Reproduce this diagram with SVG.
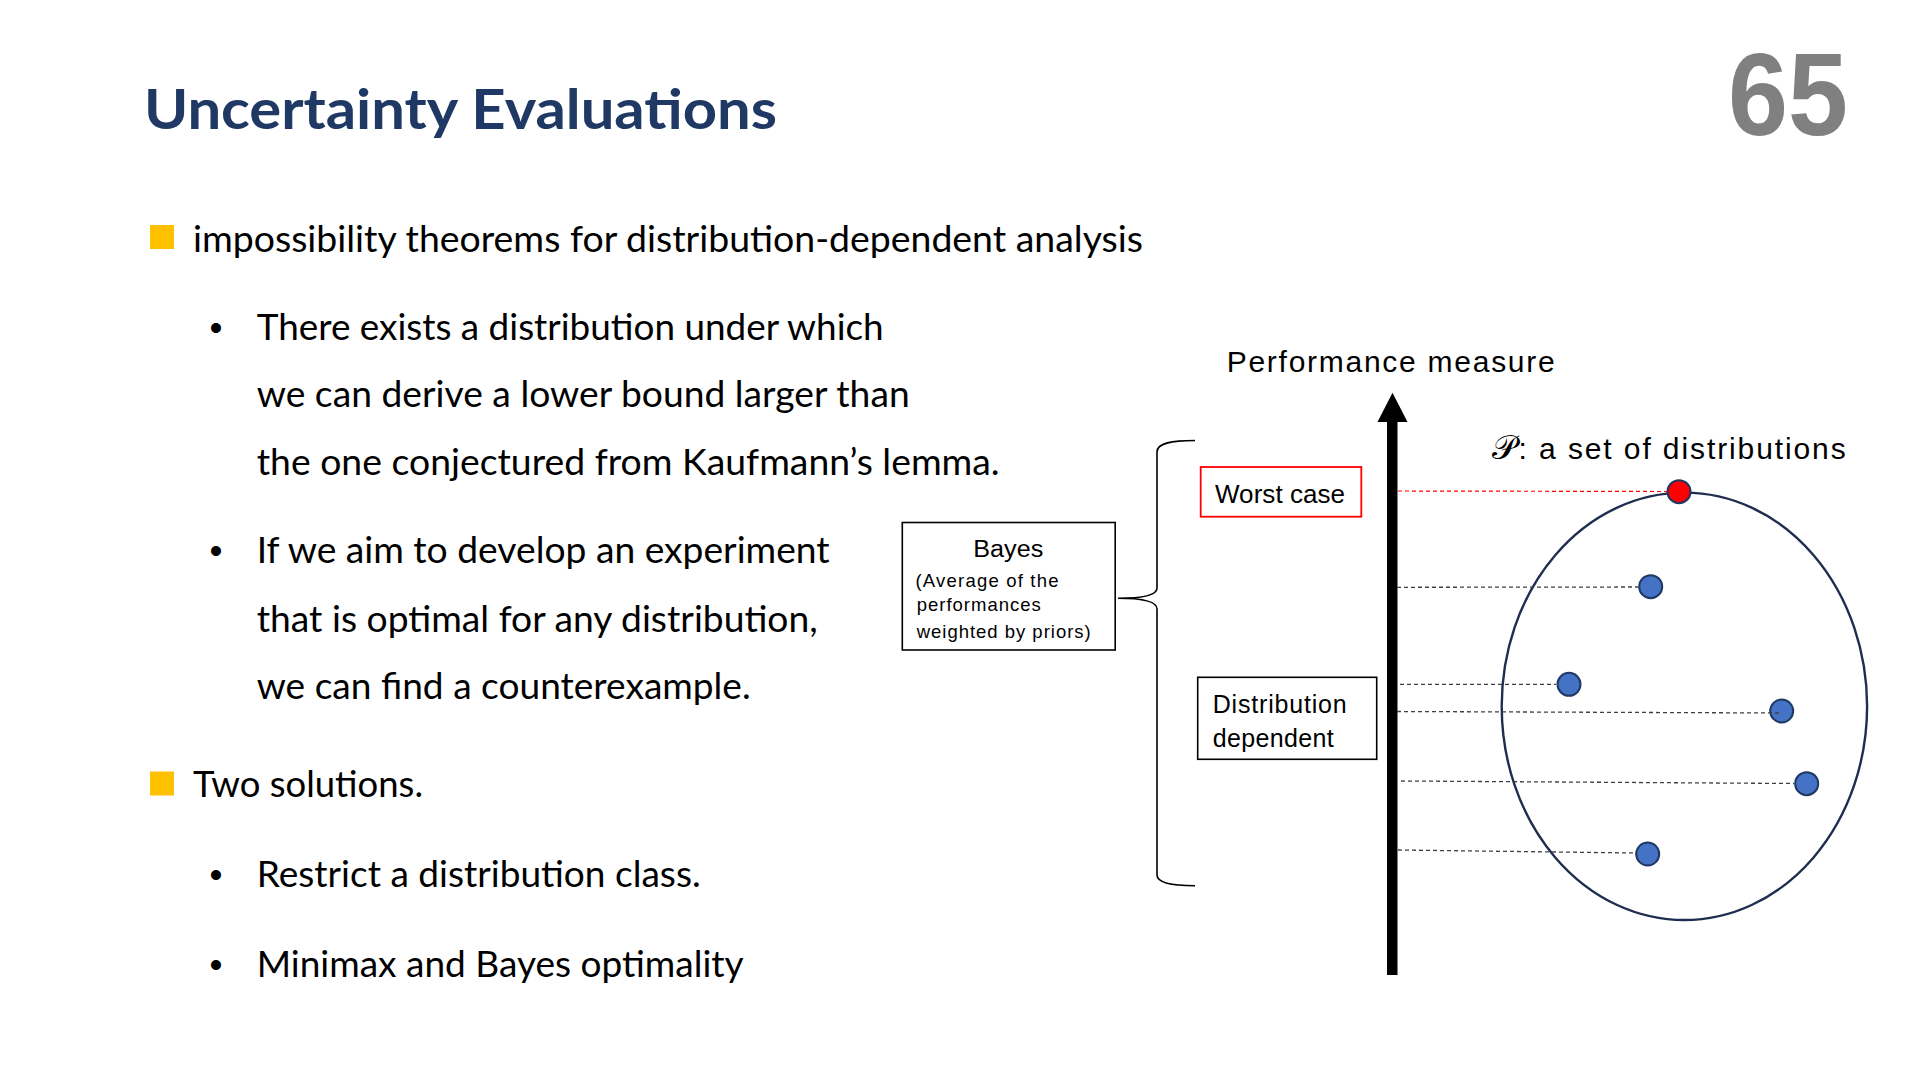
<svg xmlns="http://www.w3.org/2000/svg" width="1920" height="1080" viewBox="0 0 1920 1080">
<style>
.body{font-family:Lato,"Open Sans","Liberation Sans",sans-serif;font-size:37px;fill:#000}
.bul{font-family:"Liberation Sans",Arial,sans-serif;font-size:37px;fill:#000}
.lbl{font-family:"Liberation Sans",Arial,sans-serif;fill:#000}
.box{fill:#fff;stroke:#000;stroke-width:1.6}
.dot{fill:#4472C4;stroke:#1F3864;stroke-width:2}
.dash{fill:none;stroke:#404040;stroke-width:1.3;stroke-dasharray:4 3}
</style>
<rect x="0" y="0" width="1920" height="1080" fill="#fff"/>
<g id="title">
<text x="144" y="128.5" font-family="Lato,'Open Sans',sans-serif" font-weight="bold" font-size="56" fill="#1F3864" textLength="633" lengthAdjust="spacingAndGlyphs">Uncertainty Evaluations</text>
</g>
<g id="page-number">
<text x="1848" y="135" text-anchor="end" font-family="'Liberation Sans',Arial,sans-serif" font-weight="bold" font-size="116" fill="#808080" textLength="120" lengthAdjust="spacingAndGlyphs">65</text>
</g>
<g id="bullets">
<rect x="150" y="225" width="24" height="24" fill="#FFC000"/>
<text class="body" x="193" y="251.7" textLength="950" lengthAdjust="spacingAndGlyphs">impossibility theorems for distribution-dependent analysis</text>
<text class="bul" x="216" y="340" text-anchor="middle">•</text>
<text class="body" x="256.7" y="340" textLength="627" lengthAdjust="spacingAndGlyphs">There exists a distribution under which</text>
<text class="body" x="256.7" y="407.3" textLength="653" lengthAdjust="spacingAndGlyphs">we can derive a lower bound larger than</text>
<text class="body" x="256.7" y="475" textLength="743" lengthAdjust="spacingAndGlyphs">the one conjectured from Kaufmann’s lemma.</text>
<text class="bul" x="216" y="563.3" text-anchor="middle">•</text>
<text class="body" x="256.7" y="563.3" textLength="573" lengthAdjust="spacingAndGlyphs">If we aim to develop an experiment</text>
<text class="body" x="256.7" y="631.7" textLength="561" lengthAdjust="spacingAndGlyphs">that is optimal for any distribution,</text>
<text class="body" x="256.7" y="699" textLength="494" lengthAdjust="spacingAndGlyphs">we can find a counterexample.</text>
<rect x="150" y="771.5" width="24" height="24" fill="#FFC000"/>
<text class="body" x="193" y="797.3" textLength="230" lengthAdjust="spacingAndGlyphs">Two solutions.</text>
<text class="bul" x="216" y="886.7" text-anchor="middle">•</text>
<text class="body" x="256.7" y="886.7" textLength="444" lengthAdjust="spacingAndGlyphs">Restrict a distribution class.</text>
<text class="bul" x="216" y="976.7" text-anchor="middle">•</text>
<text class="body" x="256.7" y="976.7" textLength="487" lengthAdjust="spacingAndGlyphs">Minimax and Bayes optimality</text>
</g>
<g id="axis">
<rect x="1387" y="420" width="10.5" height="555" fill="#000"/>
<polygon points="1392.5,392.7 1377.5,422 1407.5,422" fill="#000"/>
<text class="lbl" x="1226.7" y="371.7" font-size="30" textLength="328" lengthAdjust="spacing">Performance measure</text>
</g>
<g id="bayes">
<rect class="box" x="902.3" y="522.5" width="212.9" height="127.5"/>
<text class="lbl" x="973.3" y="556.7" font-size="23" textLength="70" lengthAdjust="spacingAndGlyphs">Bayes</text>
<text class="lbl" x="915.5" y="586.7" font-size="18.5" textLength="143" lengthAdjust="spacing">(Average of the</text>
<text class="lbl" x="916.7" y="611" font-size="18.5" textLength="124" lengthAdjust="spacing">performances</text>
<text class="lbl" x="916.7" y="637.7" font-size="18.5" textLength="174" lengthAdjust="spacing">weighted by priors)</text>
</g>
<g id="brace">
<path d="M1195,440.5 C1172,440.5 1157,443 1157,452 L1157,588 C1157,596 1140,598.3 1118,598.3 C1140,598.3 1157,601 1157,609 L1157,875 C1157,883 1172,885.7 1195,885.7" fill="none" stroke="#000" stroke-width="1.6"/>
</g>
<g id="worst-case">
<rect x="1200.7" y="467" width="160.6" height="49.7" fill="#fff" stroke="#FF0000" stroke-width="1.8"/>
<text class="lbl" x="1215" y="502.7" font-size="26" textLength="130" lengthAdjust="spacing">Worst case</text>
</g>
<g id="distribution-dependent">
<rect class="box" x="1197.7" y="677.3" width="179" height="82"/>
<text class="lbl" x="1212.7" y="712.7" font-size="25" textLength="134" lengthAdjust="spacing">Distribution</text>
<text class="lbl" x="1212.7" y="747.3" font-size="25" textLength="121" lengthAdjust="spacing">dependent</text>
</g>
<g id="distribution-set">
<ellipse cx="1684.4" cy="706.3" rx="182.7" ry="213.7" fill="none" stroke="#1F2E50" stroke-width="2.4"/>
<text class="lbl" x="1491.7" y="459.3" font-size="30" textLength="354" lengthAdjust="spacing"><tspan font-family="'DejaVu Serif','DejaVu Sans',serif" font-size="34">𝒫</tspan>: a set of distributions</text>
</g>
<g id="points">
<circle cx="1679" cy="491.7" r="11.5" fill="#FF0000" stroke="#1F3864" stroke-width="2"/>
<circle class="dot" cx="1650.7" cy="586.7" r="11.5"/>
<circle class="dot" cx="1569" cy="684.3" r="11.5"/>
<circle class="dot" cx="1781.7" cy="711" r="11.5"/>
<circle class="dot" cx="1806.7" cy="783.7" r="11.5"/>
<circle class="dot" cx="1647.7" cy="854" r="11.5"/>
</g>
<g id="connectors">
<path d="M1398,491 L1667,491.5" fill="none" stroke="#FF0000" stroke-width="1.2" stroke-dasharray="4 3"/>
<path class="dash" d="M1397,587.3 L1638,587"/>
<path class="dash" d="M1400,684.3 L1556,684.3"/>
<path class="dash" d="M1397,711.5 L1781,713"/>
<path class="dash" d="M1401,781 L1794,783.5"/>
<path class="dash" d="M1398,850 L1635,853"/>
</g>
</svg>
